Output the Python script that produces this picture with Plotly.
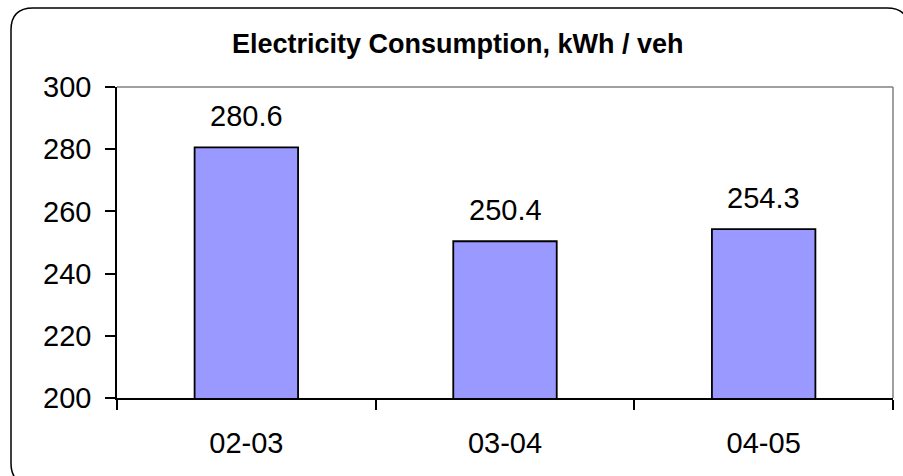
import plotly.graph_objects as go

categories = ["02-03", "03-04", "04-05"]
values = [280.6, 250.4, 254.3]
value_labels = ["280.6", "250.4", "254.3"]
y_ticks = [200, 220, 240, 260, 280, 300]
title_text = "Electricity Consumption, kWh / veh"

W, H = 903, 476
L, R, T, B = 117, 10, 87, 78
PW, PH = W - L - R, H - T - B
FONT = "Arial, Liberation Sans, sans-serif"
FS = 29


def px(x):
    return (x - L) / PW


def py(y):
    return (H - B - y) / PH


fig = go.Figure()
fig.add_trace(go.Bar(
    x=categories, y=values, width=0.40,
    marker=dict(color="#9999FF", line=dict(color="black", width=1.8)),
    hoverinfo="skip",
))

for c, v, t in zip(categories, values, value_labels):
    fig.add_annotation(x=c, y=v, text=t, showarrow=False, yanchor="bottom",
                       yshift=13, font=dict(family=FONT, size=FS, color="black"))

fig.add_annotation(xref="paper", yref="paper", x=px(458), y=py(44), text="<b>" + title_text + "</b>",
                   showarrow=False, xanchor="center", yanchor="middle",
                   font=dict(family=FONT, size=27, color="black"))

# plot area gray top/right border
fig.add_shape(type="line", xref="paper", yref="paper", x0=0, x1=1, y0=1, y1=1,
              line=dict(color="#808080", width=1.5))
fig.add_shape(type="line", xref="paper", yref="paper", x0=1, x1=1, y0=0, y1=1,
              line=dict(color="#808080", width=1.5))

# rounded outer frame
x0, y0, x1, y1, r = 11, 8, 909, 485, 22
path = (f"M {px(x0 + r)},{py(y0)} L {px(x1 - r)},{py(y0)} Q {px(x1)},{py(y0)} {px(x1)},{py(y0 + r)} "
        f"L {px(x1)},{py(y1 - r)} Q {px(x1)},{py(y1)} {px(x1 - r)},{py(y1)} "
        f"L {px(x0 + r)},{py(y1)} Q {px(x0)},{py(y1)} {px(x0)},{py(y1 - r)} "
        f"L {px(x0)},{py(y0 + r)} Q {px(x0)},{py(y0)} {px(x0 + r)},{py(y0)} Z")
fig.add_shape(type="path", xref="paper", yref="paper", path=path,
              line=dict(color="black", width=1.5), layer="above")

fig.update_layout(
    width=W, height=H,
    margin=dict(l=L, r=R, t=T, b=B, autoexpand=False),
    paper_bgcolor="white", plot_bgcolor="white",
    showlegend=False,
    font=dict(family=FONT, size=FS, color="black"),
    xaxis=dict(type="category", showline=True, linecolor="black", linewidth=1.5, ticks="outside",
               tickson="boundaries", ticklen=10, tickcolor="black", tickwidth=1.5,
               showgrid=False, ticklabelstandoff=18, automargin=False,
               tickfont=dict(family=FONT, size=FS, color="black")),
    yaxis=dict(range=[200, 300], tickvals=y_ticks, showline=True, linecolor="black",
               linewidth=1.5, ticks="outside", ticklen=10, tickcolor="black", tickwidth=1.5,
               showgrid=False, zeroline=False, ticklabelstandoff=8, automargin=False,
               tickfont=dict(family=FONT, size=FS, color="black")),
)

fig.write_html("out.html", config={"displayModeBar": False},
               post_script="document.body.style.margin='0';document.body.style.overflow='hidden';")
